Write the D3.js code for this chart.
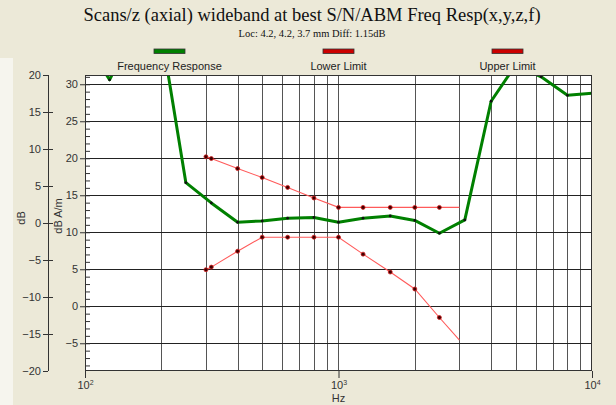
<!DOCTYPE html>
<html><head><meta charset="utf-8">
<script src="https://cdn.jsdelivr.net/npm/d3@7/dist/d3.min.js"></script>
<style>
body{margin:0;background:#ECE9D8;}
svg{display:block;}
</style>
</head><body>
<svg id="chart" width="616" height="405"></svg>
<script>
// ---- data ----
const titleText = "Scans/z (axial) wideband at best S/N/ABM Freq Resp(x,y,z,f)";
const subtitleText = "Loc: 4.2, 4.2, 3.7 mm Diff: 1.15dB";
const respFreq = [100,125,160,200,250,315,400,500,630,800,1000,1250,1600,2000,2500,3150,4000,5000,6300,8000,10000];
const respValues = [36,30.6,38,37,16.7,13.96,11.35,11.53,11.9,12.0,11.35,11.9,12.2,11.6,9.87,11.67,27.7,32.6,31.0,28.5,28.8];
const limitFreq = [300,315,400,500,630,800,1000,1250,1600,2000,2500,3000];
const upperValues = [20.2,19.96,18.6,17.4,16.06,14.63,13.36,13.36,13.36,13.36,13.36,13.36];
const lowerValues = [4.94,5.29,7.44,9.33,9.33,9.33,9.33,7.04,4.62,2.33,-1.52,-4.58];
const dbTicks = [-20,-15,-10,-5,0,5,10,15,20];
const dbamTicks = [-5,0,5,10,15,20,25,30];
const xGrid = [200,300,400,500,600,700,800,900,1000,2000,3000,4000,5000,6000,7000,8000,9000];
const xMajor = [100,1000,10000];
const xMajorExp = ["2","3","4"];
const legendNames = ["Frequency Response","Lower Limit","Upper Limit"];
const legendColors = ["#008000","#cc0000","#cc0000"];

// ---- layout ----
const L = 85, R = 592, T = 75, B = 371;
const svg = d3.select("#chart");
const x = d3.scaleLog().domain([100,10000]).range([L,R]);
const yOuter = d3.scaleLinear().domain([-20,20]).range([B,T]);
const yInner = d3.scaleLinear().domain([-8.75,31.25]).range([B,T]);
const sans = "'Liberation Sans', Arial, sans-serif";
const serif = "'Liberation Serif', 'Times New Roman', serif";

svg.append("rect").attr("width",616).attr("height",405).attr("fill","#ECE9D8");
svg.append("rect").attr("x",0).attr("y",58).attr("width",13).attr("height",347).attr("fill","#F6F5EE");

// title
svg.append("text").attr("x",312).attr("y",21).attr("text-anchor","middle")
  .attr("font-family",serif).attr("font-size",18.5).attr("fill","#111").text(titleText);
svg.append("text").attr("x",312).attr("y",37).attr("text-anchor","middle")
  .attr("font-family",serif).attr("font-size",10.5).attr("fill","#111").text(subtitleText);

// legend
const legW = (R-L)/3;
legendNames.forEach((n,i)=>{
  const cx = L + legW*(i+0.5);
  svg.append("rect").attr("x",cx-15.5).attr("y",49).attr("width",31).attr("height",4.5)
    .attr("fill",legendColors[i]).attr("stroke","#333").attr("stroke-width",0.8);
  svg.append("text").attr("x",cx).attr("y",70).attr("text-anchor","middle")
    .attr("font-family",sans).attr("font-size",11).attr("fill","#222").text(n);
});

// plot background
svg.append("rect").attr("x",L).attr("y",T).attr("width",R-L).attr("height",B-T).attr("fill","#fff");

// grid
const grid = svg.append("g").attr("shape-rendering","crispEdges");
grid.selectAll("line.v").data(xGrid).join("line").attr("class","v")
  .attr("x1",d=>Math.round(x(d))+0.5).attr("x2",d=>Math.round(x(d))+0.5)
  .attr("y1",T).attr("y2",B).attr("stroke","#555").attr("stroke-width",1);
grid.selectAll("line.h").data(dbamTicks).join("line").attr("class","h")
  .attr("y1",d=>Math.round(yInner(d))+0.5).attr("y2",d=>Math.round(yInner(d))+0.5)
  .attr("x1",L).attr("x2",R).attr("stroke","#222").attr("stroke-width",1);

// inner minor ticks
const minorAxis = d3.axisRight(yInner).tickValues(d3.range(-8,32)).tickSize(5).tickFormat("");
const gMinor = svg.append("g").attr("transform",`translate(${L},0)`).call(minorAxis);
gMinor.select(".domain").remove();
gMinor.selectAll("line").attr("stroke","#333");

// clip
svg.append("clipPath").attr("id","clip").append("rect")
  .attr("x",L).attr("y",T).attr("width",R-L).attr("height",B-T);
const plot = svg.append("g").attr("clip-path","url(#clip)");

// limit lines
const line = d3.line().x(d=>x(d[0])).y(d=>yInner(d[1]));
[upperValues, lowerValues].forEach(vals=>{
  const pts = limitFreq.map((f,i)=>[f,vals[i]]);
  plot.append("path").datum(pts).attr("d",line).attr("fill","none")
    .attr("stroke","#ff5a5a").attr("stroke-width",1.1);
  plot.selectAll(null).data(pts.slice(0,-1)).join("circle")
    .attr("cx",d=>x(d[0])).attr("cy",d=>yInner(d[1])).attr("r",2)
    .attr("fill","#400000").attr("stroke","#d02020").attr("stroke-width",0.8);
});

// response line
const respPts = respFreq.map((f,i)=>[f,respValues[i]]);
plot.append("path").datum(respPts).attr("d",line).attr("fill","none")
  .attr("stroke","#008000").attr("stroke-width",3).attr("stroke-linejoin","round");
plot.selectAll(null).data(respPts).join("circle")
  .attr("cx",d=>x(d[0])).attr("cy",d=>yInner(d[1])).attr("r",1.4).attr("fill","#111");

// frame
svg.append("rect").attr("x",L+0.5).attr("y",T+0.5).attr("width",R-L-1).attr("height",B-T-1)
  .attr("fill","none").attr("stroke","#333").attr("stroke-width",1);

// inner left axis (dB A/m)
const innerAxis = d3.axisLeft(yInner).tickValues(dbamTicks).tickSize(5).tickPadding(2);
const gIn = svg.append("g").attr("transform",`translate(${L},0)`).call(innerAxis);
gIn.select(".domain").remove();
gIn.selectAll("line").attr("stroke","#333");
gIn.selectAll("text").attr("font-family",sans).attr("font-size",11).attr("fill","#333");

// outer left axis (dB)
const AX = 48;
const outerAxis = d3.axisLeft(yOuter).tickValues(dbTicks).tickSize(5).tickPadding(2);
const gOut = svg.append("g").attr("transform",`translate(${AX},0)`).call(outerAxis);
gOut.select(".domain").attr("d",`M0.5,${T}V${B}`).attr("stroke","#333");
gOut.selectAll("line").attr("stroke","#333");
gOut.selectAll("text").attr("font-family",sans).attr("font-size",11).attr("fill","#333");
gOut.selectAll(".tick").filter(d=>d>-20 && d<20).append("line")
  .attr("x1",0).attr("x2",5).attr("stroke","#333");

// axis titles
svg.append("text").attr("transform","translate(25,218) rotate(-90)").attr("text-anchor","middle")
  .attr("font-family",sans).attr("font-size",11).attr("fill","#333").text("dB");
svg.append("text").attr("transform","translate(62,216) rotate(-90)").attr("text-anchor","middle")
  .attr("font-family",sans).attr("font-size",11).attr("fill","#333").text("dB A/m");

// bottom axis
const bottomAxis = d3.axisBottom(x).tickValues(xMajor).tickSize(7).tickFormat("");
const gB = svg.append("g").attr("transform",`translate(0,${B})`).call(bottomAxis);
gB.select(".domain").remove();
gB.selectAll("line").attr("stroke","#333");
gB.selectAll(".tick").append("text").attr("y",18).attr("text-anchor","middle")
  .attr("font-family",sans).attr("font-size",11).attr("fill","#333")
  .each(function(d,i){
    const t = d3.select(this);
    t.append("tspan").text("10");
    t.append("tspan").attr("dy",-4).attr("font-size",7).text(xMajorExp[i]);
  });
svg.append("text").attr("x",x(1000)).attr("y",402).attr("text-anchor","middle")
  .attr("font-family",sans).attr("font-size",11).attr("fill","#333").text("Hz");
</script>
</body></html>
